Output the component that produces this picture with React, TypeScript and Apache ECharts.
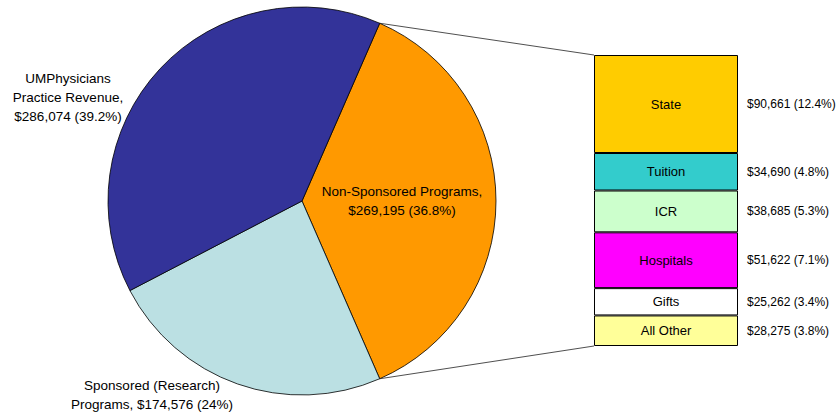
import React, { useEffect, useRef } from "react";
import * as echarts from "echarts";

const pieNames = ["Non-Sponsored Programs", "Sponsored (Research) Programs", "UMPhysicians Practice Revenue"];
const pieValues = [269195, 174576, 286074];
const pieLabels = [
  "Non-Sponsored Programs,\n$269,195 (36.8%)",
  "Sponsored (Research)\nPrograms, $174,576 (24%)",
  "UMPhysicians\nPractice Revenue,\n$286,074 (39.2%)",
];
const pieColors = ["#FF9900", "#BBE0E3", "#333399"];

const barNames = ["State", "Tuition", "ICR", "Hospitals", "Gifts", "All Other"];
const barValues = [90661, 34690, 38685, 51622, 25262, 28275];
const barValueLabels = [
  "$90,661 (12.4%)",
  "$34,690 (4.8%)",
  "$38,685 (5.3%)",
  "$51,622 (7.1%)",
  "$25,262 (3.4%)",
  "$28,275 (3.8%)",
];
const barColors = ["#FFCC00", "#33CCCC", "#CCFFCC", "#FF00FF", "#FFFFFF", "#FFFF99"];

const FONT = "'Liberation Sans', Arial, sans-serif";

export default function App() {
  const ref = useRef<HTMLDivElement>(null);
  useEffect(() => {
    if (!ref.current) return;
    const chart = echarts.init(ref.current, null, { renderer: "svg" });
    const cx = 302;
    const cy = 201;
    const r = 194;
    const pieTotal = pieValues.reduce((a, b) => a + b, 0);
    const barTotal = barValues.reduce((a, b) => a + b, 0);
    const startAngle = (360 * pieValues[0]) / pieTotal / 2;
    const gridLeft = 594;
    const gridTop = 55;
    const gridHeight = 291;
    const bandWidth = 144;

    const a = (startAngle * Math.PI) / 180;
    const topPt = [cx + r * Math.cos(a), cy - r * Math.sin(a)];
    const botPt = [cx + r * Math.cos(a), cy + r * Math.sin(a)];

    const labelPos: Record<number, [number, number]> = {
      1: [152, 395],
      2: [68, 97],
    };

    chart.setOption({
      animation: false,
      textStyle: { fontFamily: FONT },
      grid: {
        left: gridLeft,
        top: gridTop,
        width: bandWidth * 2,
        height: gridHeight,
        outerBoundsMode: "none",
        containLabel: false,
      },
      xAxis: { type: "category", data: ["bar", "label"], show: false, boundaryGap: true },
      yAxis: { type: "value", min: 0, max: barTotal, inverse: true, show: false },
      graphic: [
        {
          type: "line",
          shape: { x1: topPt[0], y1: topPt[1], x2: gridLeft, y2: gridTop },
          style: { stroke: "#222", lineWidth: 0.8 },
          z: 10,
        },
        {
          type: "line",
          shape: { x1: botPt[0], y1: botPt[1], x2: gridLeft, y2: gridTop + gridHeight },
          style: { stroke: "#222", lineWidth: 0.8 },
          z: 10,
        },
      ],
      series: [
        {
          type: "pie",
          center: [cx, cy],
          radius: [0, r],
          startAngle: startAngle,
          clockwise: true,
          silent: true,
          emphasis: { disabled: true },
          itemStyle: { borderColor: "#000", borderWidth: 0.8 },
          labelLine: { show: false },
          labelLayout: (params: any) => {
            const p = labelPos[params.dataIndex];
            if (!p) return {};
            return { x: p[0], y: p[1], align: "center", verticalAlign: "middle" };
          },
          data: pieValues.map((v, i) => ({
            name: pieNames[i],
            value: v,
            itemStyle: { color: pieColors[i] },
            label: {
              show: true,
              position: "inside",
              formatter: pieLabels[i],
              color: "#000",
              fontSize: 13.5,
              lineHeight: 19,
              fontFamily: FONT,
              align: "center",
              overflow: "none",
            },
          })),
        },
        ...barValues.map((v, i) => ({
          type: "bar",
          name: barNames[i],
          stack: "total",
          barCategoryGap: "0%",
          barGap: "0%",
          silent: true,
          emphasis: { disabled: true },
          data: [
            {
              value: v,
              itemStyle: { color: barColors[i], borderColor: "#000", borderWidth: 1 },
              label: {
                show: true,
                position: "inside",
                formatter: barNames[i],
                color: "#000",
                fontSize: 13,
                fontFamily: FONT,
              },
            },
            {
              value: v,
              itemStyle: { color: "rgba(0,0,0,0)", borderWidth: 0 },
              label: {
                show: true,
                position: "insideLeft",
                distance: 9,
                formatter: barValueLabels[i],
                color: "#000",
                fontSize: 12,
                fontFamily: FONT,
              },
            },
          ],
        })),
      ],
    });
    return () => chart.dispose();
  }, []);
  return (
    <div
      ref={ref}
      style={{ position: "absolute", left: 0, top: 0, width: 838, height: 415, background: "#fff" }}
    />
  );
}
